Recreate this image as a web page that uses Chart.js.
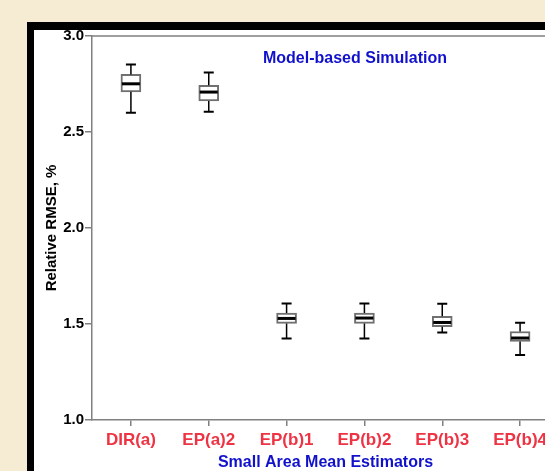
<!DOCTYPE html>
<html>
<head>
<meta charset="utf-8">
<script src="https://cdn.jsdelivr.net/npm/chart.js@4.4.1/dist/chart.umd.min.js"></script>
<style>
  body { margin: 0; background: #f5ecd3; overflow: hidden; }
  #frame {
    position: absolute; left: 27px; top: 22px; width: 700px; height: 600px;
    background: #fff; border-left: 7px solid #000; border-top: 8px solid #000;
  }
  #wrap { position: absolute; left: 34px; top: 26px; width: 560px; height: 455px; }
</style>
</head>
<body>
<div id="frame"></div>
<div id="wrap"><canvas id="boxChart" width="560" height="455"></canvas></div>
<script>
// estimators on the x axis
const categories = ["DIR(a)", "EP(a)2", "EP(b)1", "EP(b)2", "EP(b)3", "EP(b)4"];

// box plot summaries (relative RMSE, %)
const whiskerLow  = [2.600, 2.605, 1.425, 1.425, 1.456, 1.339];
const q1          = [2.709, 2.662, 1.503, 1.503, 1.486, 1.409];
const median      = [2.751, 2.708, 1.529, 1.531, 1.508, 1.427];
const q3          = [2.800, 2.743, 1.557, 1.557, 1.540, 1.461];
const whiskerHigh = [2.852, 2.810, 1.607, 1.607, 1.606, 1.507];

const yMin = 1.0, yMax = 3.0, yStep = 0.5;

const axisGray = "#808080";
const fontFamily = "Arial, 'Liberation Sans', sans-serif";

// whiskers, caps, medians, frame top + inner title
const boxExtras = {
  id: "boxExtras",
  afterDatasetsDraw(chart) {
    const ctx = chart.ctx;
    const y = chart.scales.y;
    const meta = chart.getDatasetMeta(0);
    ctx.save();
    meta.data.forEach((bar, i) => {
      const x = bar.x;
      const half = bar.width / 2;
      ctx.strokeStyle = "#000";
      ctx.lineWidth = 1.5;
      ctx.beginPath();
      ctx.moveTo(x, y.getPixelForValue(q3[i]));
      ctx.lineTo(x, y.getPixelForValue(whiskerHigh[i]));
      ctx.moveTo(x, y.getPixelForValue(q1[i]));
      ctx.lineTo(x, y.getPixelForValue(whiskerLow[i]));
      ctx.stroke();
      ctx.lineWidth = 2;
      ctx.beginPath();
      [whiskerHigh[i], whiskerLow[i]].forEach(v => {
        const py = y.getPixelForValue(v);
        ctx.moveTo(x - 5, py);
        ctx.lineTo(x + 5, py);
      });
      ctx.stroke();
      ctx.lineWidth = 3;
      ctx.beginPath();
      const my = y.getPixelForValue(median[i]);
      ctx.moveTo(x - half + 1, my);
      ctx.lineTo(x + half - 1, my);
      ctx.stroke();
    });
    const a = chart.chartArea;
    ctx.strokeStyle = axisGray;
    ctx.lineWidth = 1.5;
    ctx.beginPath();
    ctx.moveTo(a.left, a.top);
    ctx.lineTo(a.right, a.top);
    ctx.lineTo(a.right, a.bottom);
    ctx.stroke();
    ctx.fillStyle = "#1111cc";
    ctx.font = "bold 16px " + fontFamily;
    ctx.textAlign = "center";
    ctx.textBaseline = "middle";
    ctx.fillText("Model-based Simulation", 321, a.top + 23);
    ctx.restore();
  }
};

new Chart(document.getElementById("boxChart"), {
  type: "bar",
  data: {
    labels: categories,
    datasets: [{
      data: categories.map((c, i) => [q1[i], q3[i]]),
      backgroundColor: "#fff",
      borderColor: "#707070",
      borderWidth: 2,
      borderSkipped: false,
      barThickness: 20
    }]
  },
  options: {
    responsive: false,
    animation: false,
    layout: { padding: { top: 0, left: 0, right: 35, bottom: 0 } },
    plugins: { legend: { display: false }, tooltip: { enabled: false } },
    scales: {
      x: {
        offset: true,
        grid: { offset: false, drawOnChartArea: false, drawTicks: true, tickLength: 6, color: axisGray, lineWidth: 1.5 },
        border: { color: axisGray, width: 1.5 },
        ticks: { color: "#ee3344", font: { family: fontFamily, size: 17, weight: "bold" }, padding: 4, maxRotation: 0, autoSkip: false },
        title: { display: true, text: "Small Area Mean Estimators", color: "#1111cc", font: { family: fontFamily, size: 16, weight: "bold" }, padding: 9 },
        afterFit: s => { s.height = 61; }
      },
      y: {
        min: yMin,
        max: yMax,
        grid: { drawOnChartArea: false, drawTicks: true, tickLength: 7, color: axisGray, lineWidth: 1.5 },
        border: { color: axisGray, width: 1.5 },
        ticks: { stepSize: yStep, color: "#000", font: { family: fontFamily, size: 15, weight: "bold" }, padding: 1, callback: v => v.toFixed(1) },
        title: { display: true, text: "Relative RMSE, %", color: "#000", font: { family: fontFamily, size: 15, weight: "bold" }, padding: 9 },
        afterFit: s => { s.width = 58; }
      }
    }
  },
  plugins: [boxExtras]
});
</script>
</body>
</html>
